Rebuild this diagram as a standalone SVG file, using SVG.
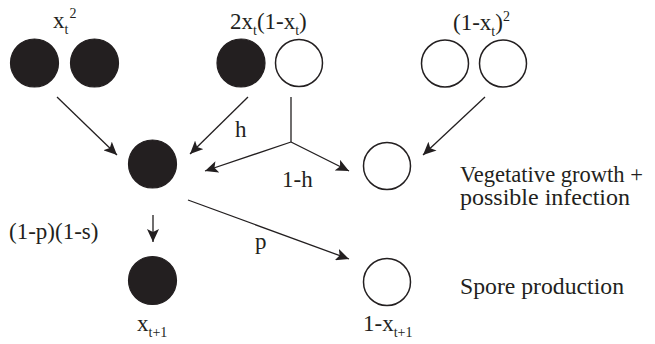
<svg xmlns="http://www.w3.org/2000/svg" width="655" height="344" viewBox="0 0 655 344">
<style>
text{fill:#231f20;font-size:23px}
.sub{font-size:14px}
.on{fill:#231f20;stroke:#231f20;stroke-width:1.2}
.off{fill:#fff;stroke:#231f20;stroke-width:1.5}
.c{fill:none;stroke:#231f20;stroke-width:1.3}
</style>
<defs>
<marker id="ah" markerWidth="14" markerHeight="12" viewBox="0 0 14 12" refX="13" refY="6" orient="auto" markerUnits="userSpaceOnUse">
<path d="M0,0 L13,6 L0,12 L3,6 Z" fill="#231f20"/>
</marker>
</defs>
<rect width="655" height="344" fill="#fff"/>
<g id="connectors">
<line class="c" x1="57" y1="97" x2="117" y2="155" marker-end="url(#ah)"/>
<line class="c" x1="248" y1="97" x2="190" y2="154" marker-end="url(#ah)"/>
<polyline class="c" points="291,97 291,142"/>
<line class="c" x1="291" y1="142" x2="205" y2="171" marker-end="url(#ah)"/>
<line class="c" x1="291" y1="142" x2="349" y2="171" marker-end="url(#ah)"/>
<line class="c" x1="485" y1="97" x2="423" y2="155" marker-end="url(#ah)"/>
<line class="c" x1="188" y1="200" x2="349" y2="259" marker-end="url(#ah)"/>
<line class="c" x1="153" y1="215" x2="153" y2="242" marker-end="url(#ah)"/>
</g>
<g font-family="'Liberation Serif', 'Times New Roman', Times, serif">
<g id="labels-edges">
<text x="235" y="137">h</text>
<text x="282" y="187">1-h</text>
<text x="255" y="249">p</text>
<text x="9" y="239">(1-p)(1-s)</text>
</g>
<g id="node-xx">
<circle class="on" cx="34.5" cy="63" r="24"/>
<circle class="on" cx="94.5" cy="63" r="24"/>
<text x="53" y="28">x<tspan class="sub" dy="6">t</tspan><tspan class="sub" dx="1" dy="-16">2</tspan></text>
</g>
<g id="node-xy">
<circle class="on" cx="241" cy="63" r="24"/>
<circle class="off" cx="299" cy="63" r="23.5"/>
<text x="230" y="29">2x<tspan class="sub" dy="6">t</tspan><tspan dy="-6">(1-x</tspan><tspan class="sub" dy="6">t</tspan><tspan dy="-6">)</tspan></text>
</g>
<g id="node-yy">
<circle class="off" cx="445" cy="63.5" r="23.5"/>
<circle class="off" cx="503" cy="63.5" r="23.5"/>
<text x="453" y="30">(1-x<tspan class="sub" dy="6">t</tspan><tspan dy="-6">)</tspan><tspan class="sub" dy="-9">2</tspan></text>
</g>
<g id="node-mid-black">
<circle class="on" cx="152.5" cy="164" r="24"/>
</g>
<g id="node-mid-white">
<circle class="off" cx="387" cy="166" r="23.5"/>
</g>
<g id="node-bot-black">
<circle class="on" cx="152.5" cy="280.5" r="24"/>
<text x="137" y="331" font-size="22">x<tspan class="sub" dy="6">t+1</tspan></text>
</g>
<g id="node-bot-white">
<circle class="off" cx="387" cy="282" r="23.5"/>
<text x="363" y="331" font-size="22">1-x<tspan class="sub" dy="6">t+1</tspan></text>
</g>
<g id="legend">
<text x="460" y="182" textLength="183" lengthAdjust="spacingAndGlyphs">Vegetative growth +</text>
<text x="460" y="205" textLength="170" lengthAdjust="spacingAndGlyphs">possible infection</text>
<text x="460" y="294" textLength="164" lengthAdjust="spacingAndGlyphs">Spore production</text>
</g>
</g>
</svg>
